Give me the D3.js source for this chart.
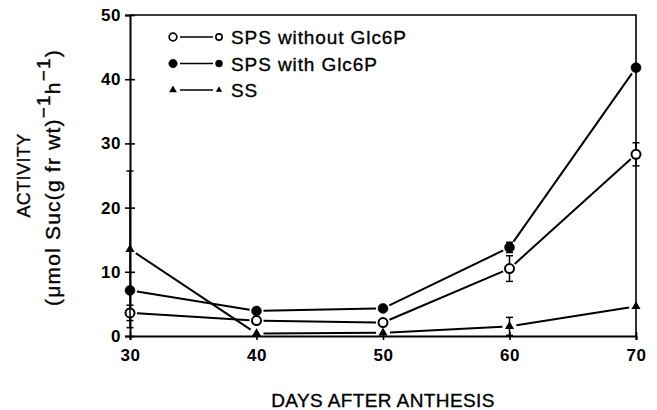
<!DOCTYPE html>
<html>
<head>
<meta charset="utf-8">
<script src="https://cdn.jsdelivr.net/npm/d3@7"></script>
<style>
  body { margin: 0; background: #fff; }
  svg { font-family: "Liberation Sans", Arial, sans-serif; }
  .heavy { stroke: #000; stroke-width: 0.35px; }
</style>
</head>
<body>
<svg width="657" height="410"></svg>
<script>
// days after anthesis
const days = [30, 40, 50, 60, 70];
const yTicks = [0, 10, 20, 30, 40, 50];

// activity values
const spsWithout = [3.6, 2.4, 2.1, 10.5, 28.3];
const spsWithoutErr = [1.2, 0, 0, 2.0, 1.8];
const spsWith = [7.1, 3.9, 4.3, 13.8, 41.8];
const spsWithErr = [0, 0, 0, 0.8, 0];
const ss = [13.5, 0.4, 0.5, 1.5, 4.6];
const ssErr = [12.2, 0, 0, 1.4, 0];

const seriesNames = ['SPS without Glc6P', 'SPS with Glc6P', 'SS'];

const margin = { top: 15, right: 21, bottom: 74, left: 130 };
const width = 657 - margin.left - margin.right;
const height = 410 - margin.top - margin.bottom;

const svg = d3.select('svg')
  .append('g')
  .attr('transform', `translate(${margin.left},${margin.top})`);

const x = d3.scaleLinear().domain([30, 70]).range([0, width]);
const y = d3.scaleLinear().domain([0, 50]).range([height, 0]);

// frame: top and right
svg.append('path')
  .attr('d', `M0,0H${width}V${height}`)
  .attr('fill', 'none')
  .attr('stroke', '#000')
  .attr('stroke-width', 1.6);

// y axis
const yAxis = svg.append('g')
  .call(d3.axisLeft(y).tickValues(yTicks).tickSize(5).tickPadding(4));
yAxis.select('.domain').attr('stroke-width', 2);
yAxis.selectAll('.tick line').attr('x2', 5).attr('x1', -5).attr('stroke-width', 1.6);
yAxis.selectAll('text')
  .attr('font-size', 17).attr('font-weight', 'bold').attr('fill', '#000')
  .attr('letter-spacing', 0.5)
  .attr('font-family', '"Liberation Sans", Arial, sans-serif');

// x axis
const xAxis = svg.append('g')
  .attr('transform', `translate(0,${height})`)
  .call(d3.axisBottom(x).tickValues(days).tickSize(4).tickPadding(9));
xAxis.select('.domain').attr('stroke-width', 2);
xAxis.selectAll('.tick line').attr('y1', -4).attr('stroke-width', 1.6);
xAxis.selectAll('text')
  .attr('font-size', 17).attr('font-weight', 'bold').attr('fill', '#000')
  .attr('letter-spacing', 0.5)
  .attr('font-family', '"Liberation Sans", Arial, sans-serif');

const series = [
  { name: seriesNames[0], values: spsWithout, err: spsWithoutErr, marker: 'open' },
  { name: seriesNames[1], values: spsWith, err: spsWithErr, marker: 'filled' },
  { name: seriesNames[2], values: ss, err: ssErr, marker: 'tri' }
];

const gap = 7;
function drawMarker(g, type, cx, cy, k = 1) {
  if (type === 'tri') {
    g.append('path')
      .attr('d', d3.symbol(d3.symbolTriangle, 36 * k * k)())
      .attr('transform', `translate(${cx},${cy})`)
      .attr('fill', '#000');
  } else {
    g.append('circle')
      .attr('cx', cx).attr('cy', cy)
      .attr('r', (type === 'open' ? 4.5 : 5) * k)
      .attr('fill', type === 'open' ? '#fff' : '#000')
      .attr('stroke', '#000')
      .attr('stroke-width', type === 'open' ? 2 * Math.max(k, 0.8) : 0.5);
  }
}

series.forEach(s => {
  const g = svg.append('g');
  // segments with small gaps around markers
  for (let i = 0; i < days.length - 1; i++) {
    const x0 = x(days[i]), y0 = y(s.values[i]);
    const x1 = x(days[i + 1]), y1 = y(s.values[i + 1]);
    const len = Math.hypot(x1 - x0, y1 - y0);
    const ux = (x1 - x0) / len, uy = (y1 - y0) / len;
    g.append('line')
      .attr('x1', x0 + ux * gap).attr('y1', y0 + uy * gap)
      .attr('x2', x1 - ux * gap).attr('y2', y1 - uy * gap)
      .attr('stroke', '#000').attr('stroke-width', 2);
  }
  // error bars
  days.forEach((d, i) => {
    if (!s.err[i]) return;
    const cx = x(d);
    const top = y(s.values[i] + s.err[i]);
    const bot = y(Math.max(0, s.values[i] - s.err[i]));
    g.append('line').attr('x1', cx).attr('x2', cx).attr('y1', top).attr('y2', bot)
      .attr('stroke', '#000').attr('stroke-width', 1.5);
    [top, bot].forEach(v => g.append('line')
      .attr('x1', cx - 3.5).attr('x2', cx + 3.5).attr('y1', v).attr('y2', v)
      .attr('stroke', '#000').attr('stroke-width', 1.5));
  });
  days.forEach((d, i) => drawMarker(g, s.marker, x(d), y(s.values[i])));
});

// legend
const legend = svg.append('g').attr('transform', 'translate(43,22)');
series.forEach((s, i) => {
  const row = legend.append('g').attr('transform', `translate(0,${i * 26.5})`);
  drawMarker(row, s.marker, 0, 0, 0.85);
  row.append('line').attr('x1', 7).attr('x2', 40).attr('y1', 0).attr('y2', 0)
    .attr('stroke', '#000').attr('stroke-width', 1.6);
  drawMarker(row, s.marker, 46, 0, 0.7);
  row.append('text')
    .attr('class', 'heavy')
    .attr('x', 58).attr('y', 7)
    .attr('font-size', 19)
    .attr('letter-spacing', 0.9)
    .text(s.name);
});

// axis titles
svg.append('text')
  .attr('class', 'heavy')
  .attr('x', width / 2).attr('y', height + 71)
  .attr('text-anchor', 'middle')
  .attr('font-size', 19)
  .attr('letter-spacing', 0.4)
  .text('DAYS AFTER ANTHESIS');

const yl = svg.append('text')
  .attr('class', 'heavy')
  .attr('transform', `translate(${-margin.left + 30},${height / 2}) rotate(-90)`)
  .attr('text-anchor', 'middle')
  .attr('font-size', 18)
  .attr('letter-spacing', 0.4);
yl.append('tspan').attr('x', 0).attr('dy', 0).text('ACTIVITY');

const yl2 = svg.append('text')
  .attr('class', 'heavy')
  .attr('transform', `translate(${-margin.left + 60},${height / 2 + 2}) rotate(-90)`)
  .attr('text-anchor', 'middle')
  .attr('font-size', 21)
  .attr('letter-spacing', 1.2);
yl2.append('tspan').text('(\u03bcmol Suc(g fr wt)');
yl2.append('tspan').attr('dy', -10).attr('font-size', 19).text('\u22121');
yl2.append('tspan').attr('dy', 10).text('h');
yl2.append('tspan').attr('dy', -10).attr('font-size', 19).text('\u22121');
yl2.append('tspan').attr('dy', 10).text(')');
</script>
</body>
</html>
